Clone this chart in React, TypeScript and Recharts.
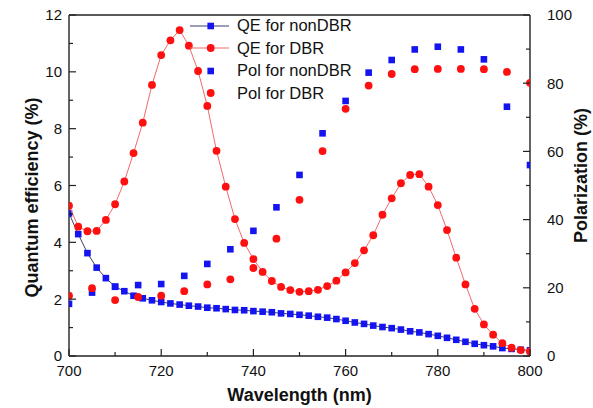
import React from "react";
import {
    ComposedChart,
    Scatter,
    XAxis,
    YAxis,
    ReferenceLine,
    Legend,
} from "recharts";

// wavelength grid of the QE curves (nm)
const qeWavelengths = [
    700, 702, 704, 706, 708, 710, 712, 714, 716, 718, 720, 722, 724, 726, 728,
    730, 732, 734, 736, 738, 740, 742, 744, 746, 748, 750, 752, 754, 756, 758,
    760, 762, 764, 766, 768, 770, 772, 774, 776, 778, 780, 782, 784, 786, 788,
    790, 792, 794, 796, 798, 800,
];
// quantum efficiency (%)
const qeNonDbr = [
    5.02, 4.29, 3.62, 3.11, 2.74, 2.44, 2.28, 2.12, 2.03, 1.96, 1.9, 1.85, 1.81,
    1.77, 1.74, 1.7, 1.68, 1.65, 1.62, 1.61, 1.58, 1.56, 1.54, 1.5, 1.48, 1.45,
    1.42, 1.38, 1.35, 1.3, 1.24, 1.18, 1.13, 1.07, 1.02, 0.98, 0.93, 0.87, 0.83,
    0.77, 0.71, 0.64, 0.57, 0.5, 0.43, 0.38, 0.34, 0.28, 0.25, 0.22, 0.2,
];
const qeDbr = [
    5.29, 4.55, 4.39, 4.4, 4.79, 5.34, 6.14, 7.14, 8.21, 9.54, 10.59, 11.11,
    11.47, 10.92, 10.03, 8.8, 7.22, 5.96, 4.82, 3.98, 3.41, 2.96, 2.64, 2.43,
    2.32, 2.26, 2.28, 2.33, 2.46, 2.65, 2.94, 3.27, 3.72, 4.25, 4.97, 5.55,
    6.08, 6.37, 6.4, 5.96, 5.31, 4.43, 3.46, 2.52, 1.66, 1.11, 0.75, 0.45, 0.29,
    0.21, 0.16,
];

// wavelength grid of the polarization points (nm)
const polWavelengths = [
    700, 705, 710, 715, 720, 725, 730, 735, 740, 745, 750, 755, 760, 765, 770,
    775, 780, 785, 790, 795, 800,
];
// polarization (%)
const polNonDbr = [
    15.3, 18.6, 20.3, 20.8, 21.1, 23.5, 27.0, 31.3, 36.7, 43.6, 53.1, 65.3,
    74.8, 83.1, 86.8, 89.9, 90.7, 89.9, 87.0, 73.1, 56.0,
];
const polDbr = [
    17.7, 19.9, 16.4, 17.3, 17.7, 19.0, 21.0, 22.5, 25.8, 34.4, 45.8, 60.1,
    72.5, 79.3, 82.7, 84.1, 84.2, 84.2, 84.1, 83.3, 80.1,
];

const xTicks = [700, 710, 720, 730, 740, 750, 760, 770, 780, 790, 800];
const leftTicks = [0, 1, 2, 3, 4, 5, 6, 7, 8, 9, 10, 11, 12];
const rightTicks = [0, 10, 20, 30, 40, 50, 60, 70, 80, 90, 100];

const font = "'Liberation Sans', Arial, sans-serif";
const axisColor = "#222";
const blue = "#1414f0";
const red = "#ff1010";

const toPoints = (xs: number[], ys: number[]) =>
    xs.map((x, i) => ({ x, y: ys[i] }));

const SquareDot = (props: any) => {
    const { cx, cy } = props;
    if (cx == null || cy == null) return null;
    return <rect x={cx - 3.3} y={cy - 3.3} width={6.6} height={6.6} fill={blue} />;
};

const RoundDot = (props: any) => {
    const { cx, cy } = props;
    if (cx == null || cy == null) return null;
    return <circle cx={cx} cy={cy} r={3.9} fill={red} />;
};

function LeftTick(props: any) {
    const { x, y, payload } = props;
    const major = payload.value % 2 === 0;
    return (
        <g>
            <line x1={x} x2={x + (major ? 7 : 4)} y1={y} y2={y} stroke={axisColor} strokeWidth={1.2} />
            {major && (
                <text x={x - 7} y={y} dy="0.36em" textAnchor="end" fontSize={15} fontFamily={font} fill="#111">
                    {payload.value}
                </text>
            )}
        </g>
    );
}

function RightTick(props: any) {
    const { x, y, payload } = props;
    const major = payload.value % 20 === 0;
    return (
        <g>
            <line x1={x} x2={x - (major ? 7 : 4)} y1={y} y2={y} stroke={axisColor} strokeWidth={1.2} />
            {major && (
                <text x={x + 17} y={y} dy="0.36em" textAnchor="start" fontSize={15} fontFamily={font} fill="#111">
                    {payload.value}
                </text>
            )}
        </g>
    );
}

function BottomTick(props: any) {
    const { x, y, payload } = props;
    const major = (payload.value - 700) % 20 === 0;
    return (
        <g>
            <line x1={x} x2={x} y1={y} y2={y - (major ? 7 : 4)} stroke={axisColor} strokeWidth={1.2} />
            {major && (
                <text x={x} y={y + 20} textAnchor="middle" fontSize={15} fontFamily={font} fill="#111">
                    {payload.value}
                </text>
            )}
        </g>
    );
}

const legendItems = [
    { name: "QE for nonDBR", dot: "square", line: "#3c3c6a" },
    { name: "QE for DBR", dot: "circle", line: "#f06a6a" },
    { name: "Pol for nonDBR", dot: "square", line: null },
    { name: "Pol for DBR", dot: "circle", line: null },
];

function ChartLegend() {
    return (
        <div style={{ fontFamily: font, fontSize: 16.5, color: "#111" }}>
            {legendItems.map((item) => (
                <div key={item.name} style={{ display: "flex", alignItems: "center", height: 22.5 }}>
                    <svg width={46} height={20}>
                        {item.line && <line x1={2} x2={41} y1={10} y2={10} stroke={item.line} strokeWidth={1} />}
                        {item.dot === "square" ? (
                            <rect x={19.4} y={6.7} width={6.6} height={6.6} fill={blue} />
                        ) : (
                            <circle cx={22.7} cy={10} r={3.9} fill={red} />
                        )}
                    </svg>
                    <span style={{ marginLeft: 3, whiteSpace: "nowrap" }}>{item.name}</span>
                </div>
            ))}
        </div>
    );
}

const titleStyle = { fontFamily: font, fontSize: 18, fontWeight: 700, fill: "#111" };

export default function App() {
    return (
        <div style={{ position: "absolute", left: 0, top: 0, background: "#fff" }}>
            <ComposedChart width={593} height={408} margin={{ top: 15, right: 0, bottom: 0, left: 0 }}>
                <XAxis
                    type="number"
                    dataKey="x"
                    domain={[700, 800]}
                    ticks={xTicks}
                    interval={0}
                    height={52}
                    tickSize={0}
                    tickMargin={0}
                    tickLine={false}
                    tick={<BottomTick />}
                    axisLine={{ stroke: axisColor, strokeWidth: 1.4 }}
                    allowDataOverflow
                    label={{
                        content: ({ viewBox }: any) => (
                            <text x={viewBox.x + viewBox.width / 2} y={401} textAnchor="middle" style={titleStyle}>
                                Wavelength (nm)
                            </text>
                        ),
                    }}
                />
                <YAxis
                    yAxisId="left"
                    type="number"
                    dataKey="y"
                    domain={[0, 12]}
                    ticks={leftTicks}
                    interval={0}
                    width={69}
                    tickSize={0}
                    tickMargin={0}
                    tickLine={false}
                    tick={<LeftTick />}
                    axisLine={{ stroke: axisColor, strokeWidth: 1.4 }}
                    allowDataOverflow
                    label={{
                        content: ({ viewBox }: any) => {
                            const cx = 32;
                            const cy = viewBox.y + viewBox.height / 2 + 12;
                            return (
                                <text x={cx} y={cy} transform={`rotate(-90, ${cx}, ${cy})`} textAnchor="middle" dominantBaseline="central" style={titleStyle}>
                                    Quantum efficiency (%)
                                </text>
                            );
                        },
                    }}
                />
                <YAxis
                    yAxisId="right"
                    orientation="right"
                    type="number"
                    dataKey="y"
                    domain={[0, 100]}
                    ticks={rightTicks}
                    interval={0}
                    width={63}
                    tickSize={0}
                    tickMargin={0}
                    tickLine={false}
                    tick={<RightTick />}
                    axisLine={{ stroke: axisColor, strokeWidth: 1.4 }}
                    allowDataOverflow
                    label={{
                        content: ({ viewBox }: any) => {
                            const cx = 581;
                            const cy = viewBox.y + viewBox.height / 2 - 10;
                            return (
                                <text x={cx} y={cy} transform={`rotate(-90, ${cx}, ${cy})`} textAnchor="middle" dominantBaseline="central" style={titleStyle}>
                                    Polarization (%)
                                </text>
                            );
                        },
                    }}
                />
                <ReferenceLine yAxisId="left" y={12} stroke={axisColor} strokeWidth={1.4} />
                <Scatter
                    name="QE for nonDBR"
                    yAxisId="left"
                    data={toPoints(qeWavelengths, qeNonDbr)}
                    line={{ stroke: "#3c3c6a", strokeWidth: 1 }}
                    lineType="joint"
                    shape={SquareDot}
                    isAnimationActive={false}
                />
                <Scatter
                    name="QE for DBR"
                    yAxisId="left"
                    data={toPoints(qeWavelengths, qeDbr)}
                    line={{ stroke: "#f06a6a", strokeWidth: 1 }}
                    lineType="joint"
                    shape={RoundDot}
                    isAnimationActive={false}
                />
                <Scatter
                    name="Pol for nonDBR"
                    yAxisId="right"
                    data={toPoints(polWavelengths, polNonDbr)}
                    shape={SquareDot}
                    isAnimationActive={false}
                />
                <Scatter
                    name="Pol for DBR"
                    yAxisId="right"
                    data={toPoints(polWavelengths, polDbr)}
                    shape={RoundDot}
                    isAnimationActive={false}
                />
                <Legend
                    layout="vertical"
                    align="center"
                    verticalAlign="middle"
                    content={() => <ChartLegend />}
                    wrapperStyle={{ left: 188, top: 14.5, width: 220 }}
                />
            </ComposedChart>
        </div>
    );
}
